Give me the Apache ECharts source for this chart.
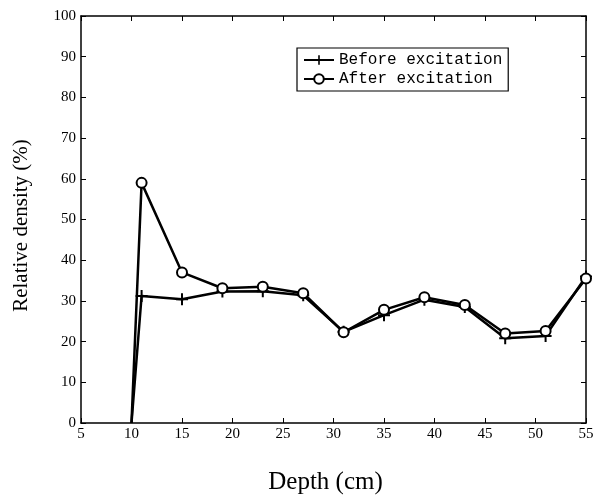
<!DOCTYPE html>
<html><head><meta charset="utf-8">
<script src="https://cdn.jsdelivr.net/npm/echarts@6/dist/echarts.min.js"></script>
<style>html,body{margin:0;padding:0;background:#fff}#c{width:597px;height:497px}</style>
</head><body><div id="c"></div>
<script>
var depth = [10, 11, 15, 19, 23, 27, 31, 35, 39, 43, 47, 51, 55];
var beforeVals = [0, 31.2, 30.4, 32.3, 32.4, 31.4, 22.4, 26.5, 30.3, 28.5, 20.8, 21.4, 36.0];
var afterVals = [0, 59.0, 37.0, 33.1, 33.5, 31.9, 22.3, 27.8, 30.9, 29.0, 22.0, 22.6, 35.5];
var seriesNames = ['Before excitation', 'After excitation'];

var plusPath = 'path://M-1,-6 L1,-6 L1,-1 L6,-1 L6,1 L1,1 L1,6 L-1,6 L-1,1 L-6,1 L-6,-1 L-1,-1 Z';

function pairs(vals, hideFirst) {
  return depth.map(function (d, i) {
    var p = { value: [d, vals[i]] };
    if (i === 0 && hideFirst) p.symbol = 'none';
    return p;
  });
}

var chart = echarts.init(document.getElementById('c'));
var axisFont = { fontFamily: 'Liberation Serif', fontSize: 15, color: '#000' };
function baseAxis(extra) {
  return Object.assign({
    axisLine: { onZero: false, lineStyle: { color: '#000', width: 1.5 } },
    axisTick: { inside: true, length: 5, lineStyle: { color: '#000', width: 1 } },
    splitLine: { show: false }
  }, extra);
}
chart.setOption({
  animation: false,
  backgroundColor: '#fff',
  grid: { left: 81, right: 11, top: 16, bottom: 74, containLabel: false, outerBoundsMode: 'none' },
  xAxis: [
    baseAxis({ type: 'value', min: 5, max: 55, interval: 5, position: 'bottom',
      axisLabel: Object.assign({ margin: 4 }, axisFont),
      name: 'Depth (cm)', nameLocation: 'middle', nameGap: 47,
      nameTextStyle: { fontFamily: 'Liberation Serif', fontSize: 25, color: '#000', padding: [0, 16, 0, 0] } }),
    baseAxis({ type: 'value', min: 5, max: 55, interval: 5, position: 'top', axisLabel: { show: false } })
  ],
  yAxis: [
    baseAxis({ type: 'value', min: 0, max: 100, interval: 10, position: 'left',
      axisLabel: Object.assign({ margin: 5 }, axisFont),
      name: 'Relative density (%)', nameLocation: 'middle', nameGap: 49,
      nameTextStyle: { fontFamily: 'Liberation Serif', fontSize: 21, color: '#000', padding: [0, 12, 0, 0] } }),
    baseAxis({ type: 'value', min: 0, max: 100, interval: 10, position: 'right', axisLabel: { show: false } })
  ],
  legend: {
    orient: 'vertical', left: 297, top: 48,
    data: seriesNames,
    borderColor: '#000', borderWidth: 1.2, padding: [4, 6, 4, 6],
    itemWidth: 30, itemHeight: 12, itemGap: 3,
    textStyle: { fontFamily: 'Liberation Mono', fontSize: 16, color: '#000' }
  },
  series: [
    { name: seriesNames[0], type: 'line', data: pairs(beforeVals, true),
      symbol: plusPath, symbolSize: 12, showAllSymbol: true,
      itemStyle: { color: '#000' }, lineStyle: { color: '#000', width: 2.5 } },
    { name: seriesNames[1], type: 'line', data: pairs(afterVals, true),
      symbol: 'emptyCircle', symbolSize: 10, showAllSymbol: true,
      itemStyle: { color: '#000', borderColor: '#000', borderWidth: 3 },
      lineStyle: { color: '#000', width: 2.5 } }
  ]
});
</script></body></html>
